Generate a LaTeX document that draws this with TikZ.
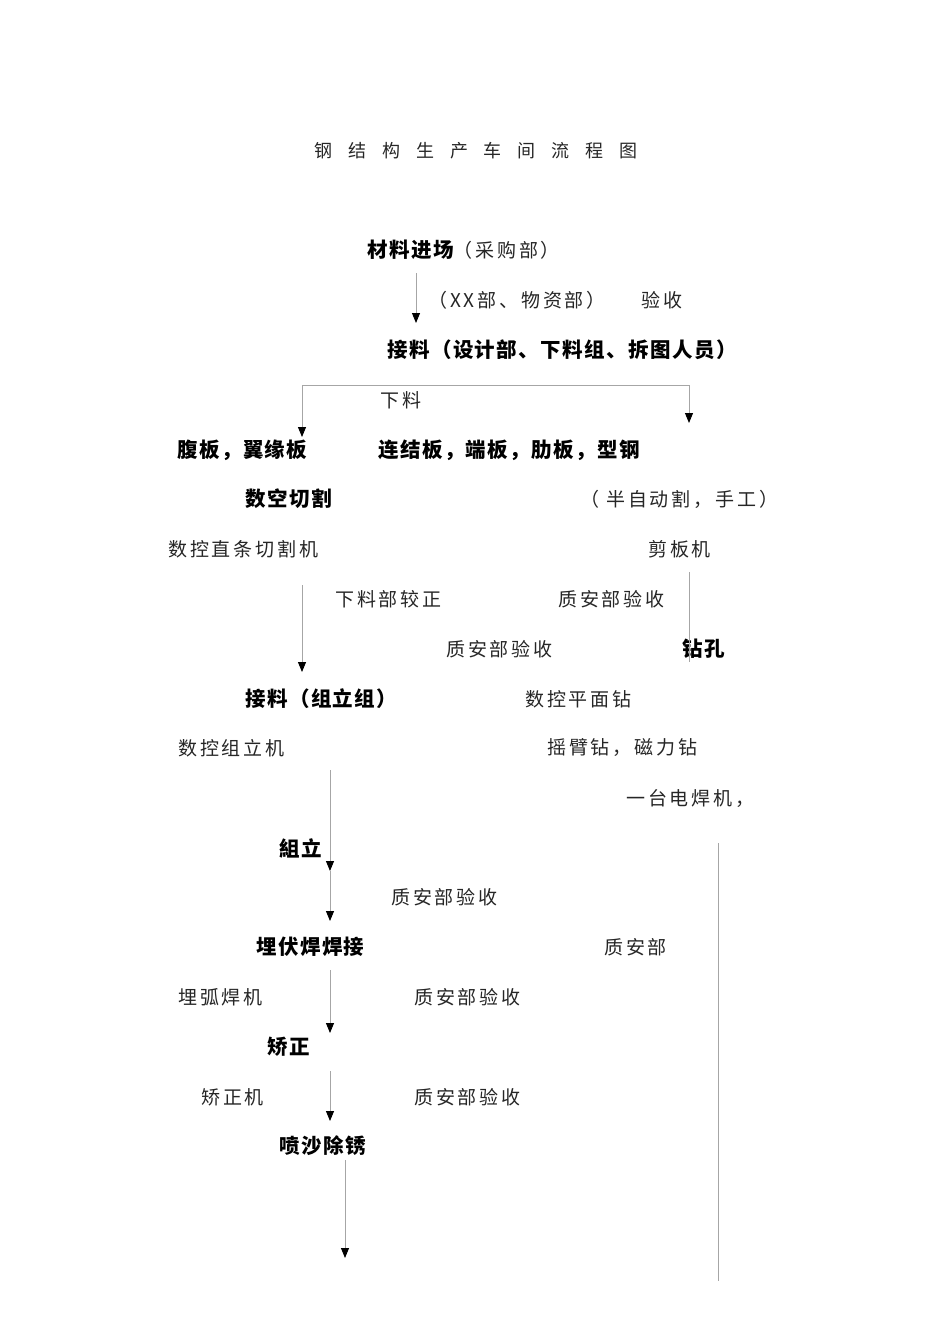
\documentclass[tikz,border=0pt]{standalone}
\usepackage{fontspec}
\usetikzlibrary{arrows.meta}
\newfontfamily\cjkl{Noto Sans CJK SC}[LetterSpace=15]
\newfontfamily\cjkb{Noto Sans CJK SC}[LetterSpace=7]
\newfontfamily\cjkt{Noto Sans CJK SC}
\tikzset{
  lt/.style={anchor=west,inner sep=0pt,text=black!85,font=\cjkl\fontsize{19}{19}\selectfont},
  bt/.style={anchor=west,inner sep=0pt,text=black,font=\cjkb\bfseries\fontsize{20.5}{20.5}\selectfont},
  conn/.style={draw=black!35,line width=0.9pt},
  arr/.style={conn,-{Triangle[width=8pt,length=10pt,black]}}
}
\begin{document}
\begin{tikzpicture}[x=1pt,y=-1pt]
\useasboundingbox[fill=white] (0,0) rectangle (950,1344);
% title
\node[anchor=center,inner sep=0pt,text=black!85,font=\cjkt\fontsize{18}{18}\selectfont] (title) at (476,151)
 {钢\hspace{15.8pt}结\hspace{15.8pt}构\hspace{15.8pt}生\hspace{15.8pt}产\hspace{15.8pt}车\hspace{15.8pt}间\hspace{15.8pt}流\hspace{15.8pt}程\hspace{15.8pt}图};
% texts
\node[bt] (n1) at (367,250) {材料进场\mdseries\cjkl\fontsize{19}{19}\selectfont\color{black!85}（采购部）};
\node[lt] (l1) at (428,300) {（XX部、物资部）};
\node[lt] (l2) at (641,300) {验收};
\node[bt] (n2) at (387,350) {接料（设计部、下料组、拆图人员）};
\node[lt] (l3) at (380,400) {下料};
\node[bt] (n3) at (177,450) {腹板，翼缘板};
\node[bt] (n4) at (378,450) {连结板，端板，肋板，型钢};
\node[bt] (n5) at (245,499) {数空切割};
\node[lt] (l4) at (580,499) {（ 半自动割，手工）};
\node[lt] (l5) at (168,549) {数控直条切割机};
\node[lt] (l6) at (648,549) {剪板机};
\node[lt] (l7) at (335,599) {下料部较正};
\node[lt] (l8) at (558,599) {质安部验收};
\node[lt] (l9) at (446,649) {质安部验收};
\node[bt] (n6) at (682,649) {钻孔};
\node[bt] (n7) at (245,699) {接料（组立组）};
\node[lt] (l10) at (525,699) {数控平面钻};
\node[lt] (l11) at (178,748) {数控组立机};
\node[lt] (l12) at (547,748) {摇臂钻，磁力钻};
\node[lt] (l13) at (626,798) {一台电焊机，};
\node[bt] (n8) at (279,848) {組立};
\node[lt] (l14) at (391,897) {质安部验收};
\node[bt] (n9) at (256,947) {埋伏焊焊接};
\node[lt] (l15) at (604,947) {质安部};
\node[lt] (l16) at (178,997) {埋弧焊机};
\node[lt] (l17) at (414,997) {质安部验收};
\node[bt] (n10) at (267,1047) {矫正};
\node[lt] (l18) at (201,1097) {矫正机};
\node[lt] (l19) at (414,1097) {质安部验收};
\node[bt] (n11) at (279,1146) {喷沙除锈};
% coordinates
\coordinate (a1s) at (416,273);
\coordinate (a1e) at (416,323);
\coordinate (bl) at (302,385);
\coordinate (br) at (689,385);
\coordinate (ble) at (302,437);
\coordinate (bre) at (689,423);
\coordinate (a2s) at (302,585);
\coordinate (a2e) at (302,672);
\coordinate (r1s) at (689,572);
\coordinate (r1e) at (689,662);
\coordinate (a3s) at (330,770);
\coordinate (a3m) at (330,871);
\coordinate (a3e) at (330,921);
\coordinate (r2s) at (718,843);
\coordinate (r2e) at (718,1281);
\coordinate (a4s) at (330,970);
\coordinate (a4e) at (330,1033);
\coordinate (a5s) at (330,1071);
\coordinate (a5e) at (330,1121);
\coordinate (a6s) at (345,1160);
\coordinate (a6e) at (345,1258);
% connectors
\draw[arr] (a1s) -- (a1e);
\draw[conn] (bl) -- (br);
\draw[arr] (bl) -- (ble);
\draw[arr] (br) -- (bre);
\draw[arr] (a2s) -- (a2e);
\draw[conn] (r1s) -- (r1e);
\draw[arr] (a3s) -- (a3m);
\draw[arr] (a3m) -- (a3e);
\draw[conn] (r2s) -- (r2e);
\draw[arr] (a4s) -- (a4e);
\draw[arr] (a5s) -- (a5e);
\draw[arr] (a6s) -- (a6e);
\end{tikzpicture}
\end{document}
